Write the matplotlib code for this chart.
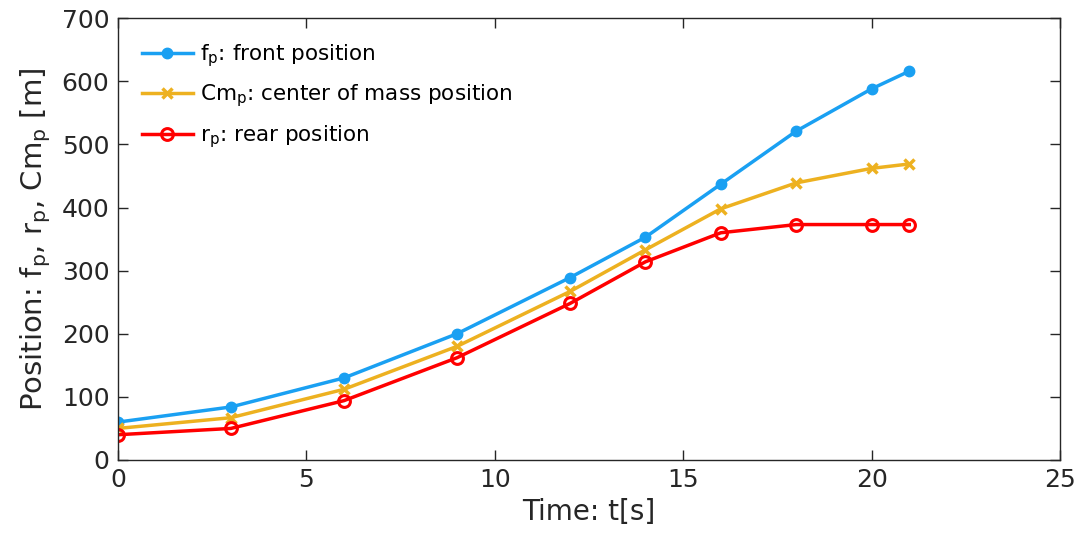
import matplotlib
matplotlib.use("Agg")
import matplotlib.pyplot as plt

plt.rcParams['font.family'] = ['DejaVu Sans']
plt.rcParams['mathtext.default'] = 'regular'

t = [0, 3, 6, 9, 12, 14, 16, 18, 20, 21]
front = [60, 84, 130, 200, 289, 353, 437, 521, 588, 616]
center = [50, 67, 112, 180, 267, 333, 398, 439, 462, 469]
rear = [40, 50, 94, 162, 248, 314, 360, 373, 373, 373]

fig = plt.figure(figsize=(10.91, 5.34), dpi=100)
ax = fig.add_axes([0.108, 0.1386, 0.8636, 0.8274])

ax.plot(t, front, color='#1AA0F2', lw=2.5, marker='o', ms=7.5, label='f$_p$: front position')
ax.plot(t, center, color='#EDB120', lw=2.5, marker='x', ms=7, mew=2.5, label='Cm$_p$: center of mass position')
ax.plot(t, rear, color='#FF0000', lw=2.5, marker='o', ms=8.5, mfc='none', mew=2.2, label='r$_p$: rear position')

ax.set_xlim(0, 25)
ax.set_ylim(0, 700)
ax.set_xticks([0, 5, 10, 15, 20, 25])
ax.set_yticks(range(0, 701, 100))
ax.tick_params(direction='in', top=True, right=True, labelsize=18, length=7, width=1, colors='#262626', pad=6)
for s in ax.spines.values():
    s.set_color('#262626')
    s.set_linewidth(1)
ax.set_xlabel('Time: t[s]', fontsize=20, color='#262626', labelpad=4)
ax.set_ylabel('Position: f$_p$, r$_p$, Cm$_p$ [m]', fontsize=21, color='#262626', labelpad=6)
ax.legend(loc='upper left', frameon=False, fontsize=15.5, handlelength=2.4, borderaxespad=0.7, labelspacing=0.65, handletextpad=0.3)

fig.savefig('out.png', dpi=100)
